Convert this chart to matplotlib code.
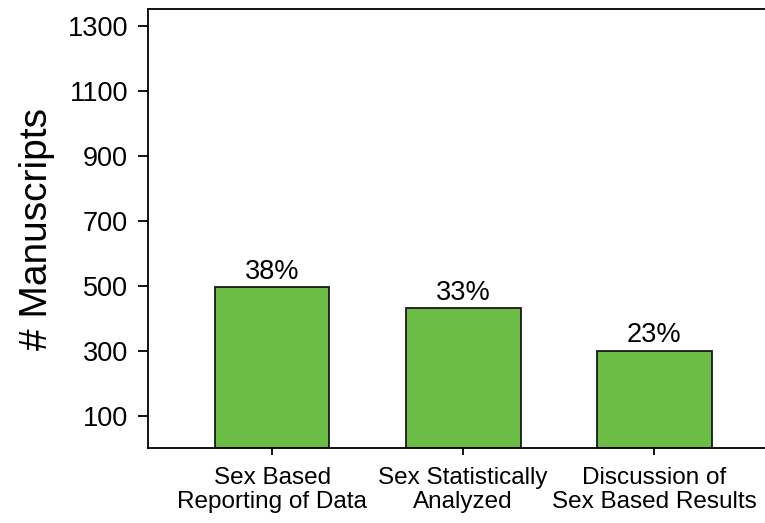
import numpy as np
import matplotlib
matplotlib.use("Agg")
import matplotlib.pyplot as plt

plt.rcParams['font.family'] = ['Liberation Sans', 'DejaVu Sans']

categories = ["Sex Based\nReporting of Data",
              "Sex Statistically\nAnalyzed",
              "Discussion of\nSex Based Results"]
counts = [495, 430, 300]
percents = ["38%", "33%", "23%"]
yticks = [100, 300, 500, 700, 900, 1100, 1300]

fig = plt.figure(figsize=(7.65, 5.23), dpi=100)
ax = fig.add_axes([0.1935, 0.1434, 0.8065, 0.8386])

x = np.arange(len(categories))
bars = ax.bar(x, counts, width=0.6, color="#6bbd45", edgecolor="#1a1a1a", linewidth=1.3)

for b, p in zip(bars, percents):
    ax.text(b.get_x() + b.get_width() / 2, b.get_height() + 8, p,
            ha="center", va="bottom", fontsize=19.5)

ax.set_xlim(-0.65, 2.58)
ax.set_ylim(0, 1350)
ax.set_yticks(yticks)
ax.set_xticks(x)
ax.set_xticklabels(categories, fontsize=17.5, linespacing=1.1)
ax.tick_params(axis="y", labelsize=19.5, length=7, width=1.3, direction="out", pad=7.5)
ax.tick_params(axis="x", length=5, width=1.3, direction="out", pad=9)
ax.set_ylabel("# Manuscripts", fontsize=28, labelpad=9)

for side in ["left", "top", "bottom"]:
    ax.spines[side].set_linewidth(1.3)
ax.spines["right"].set_visible(False)

fig.savefig("out.png", dpi=100)
